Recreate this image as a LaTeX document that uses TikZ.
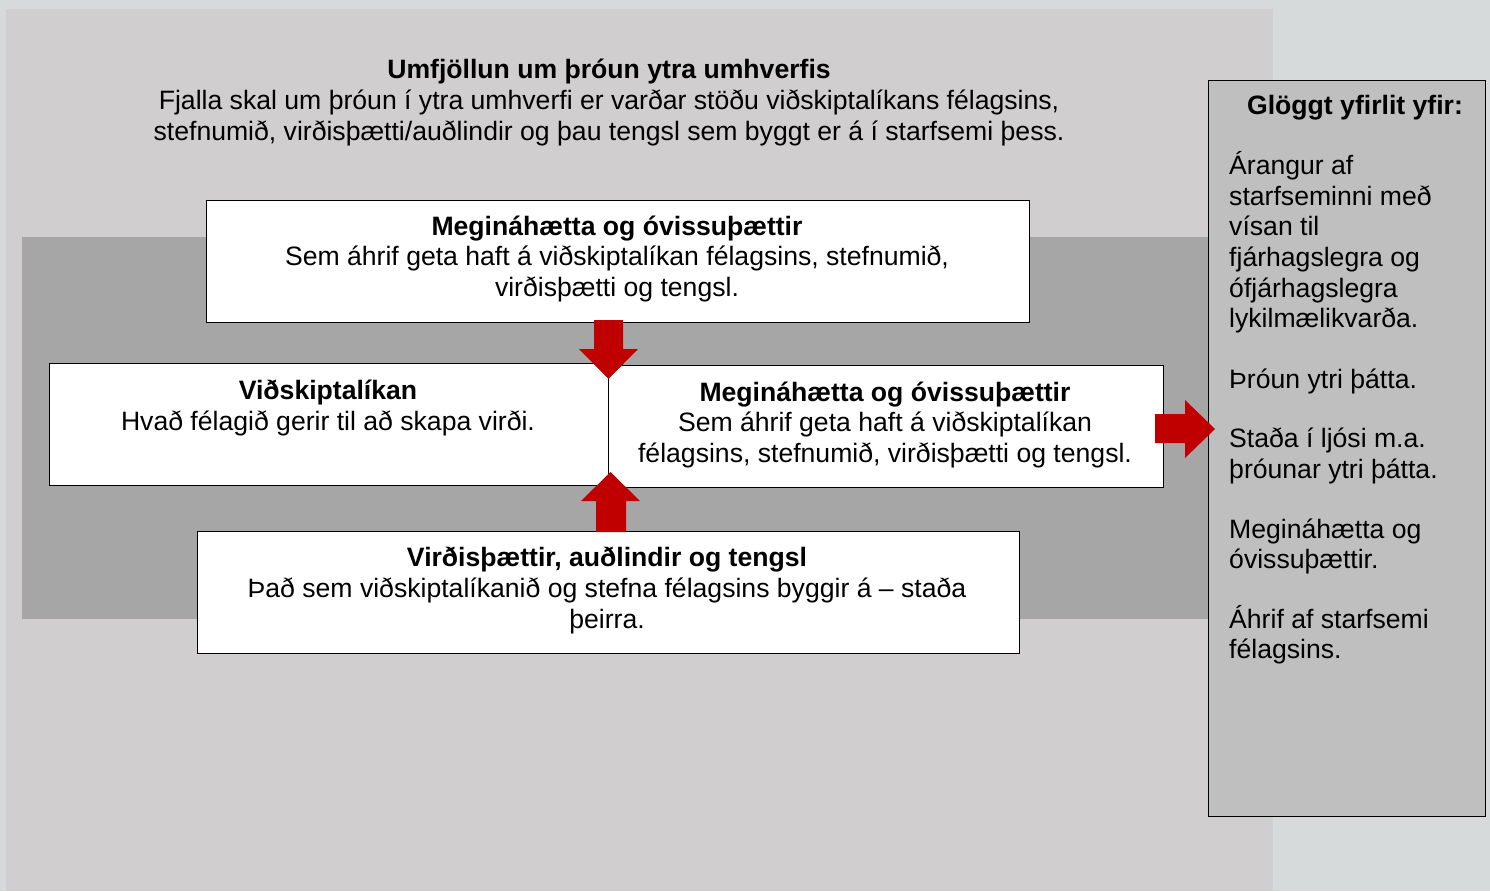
\documentclass[tikz,border=0pt]{standalone}
\usepackage{fontspec}
\setmainfont{Liberation Sans}
\definecolor{outerbg}{HTML}{D6DADB}
\definecolor{panelbg}{HTML}{D0CECF}
\definecolor{bandbg}{HTML}{A6A6A6}
\definecolor{sidebg}{HTML}{BFBFBF}
\definecolor{arrowred}{HTML}{C00000}
\begin{document}
\begin{tikzpicture}[x=1pt,y=-1pt,
  box/.style={draw=black, line width=1.3pt, fill=white, anchor=north west, inner sep=0pt},
  txt/.style={align=center, inner sep=0pt, font=\fontsize{26.6}{30.6}\selectfont},
  sidetxt/.style={align=left, inner sep=0pt, anchor=north west, font=\fontsize{26.6}{30.6}\selectfont},
  blockarrow/.style={fill=arrowred, draw=none}]
\useasboundingbox (0,0) rectangle (1490,891);
\fill[outerbg] (0,0) rectangle (1490,891);
\fill[panelbg] (6,9) rectangle (1273,891);
\fill[bandbg] (22,237) rectangle (1208,619);

% title
\node[txt] (title) at (609,102.5) {\textbf{Umfjöllun um þróun ytra umhverfis}\\
Fjalla skal um þróun í ytra umhverfi er varðar stöðu viðskiptalíkans félagsins,\\
stefnumið, virðisþætti/auðlindir og þau tengsl sem byggt er á í starfsemi þess.};

% boxes
\node[box, minimum width=823, minimum height=122] (top) at (206,200) {};
\node[box, minimum width=559, minimum height=122] (left) at (49,363) {};
\node[box, minimum width=555, minimum height=122] (right) at (608,365) {};
\node[box, minimum width=822, minimum height=122] (bottom) at (197,531) {};
\node[box, fill=sidebg, minimum width=277, minimum height=736] (side) at (1208,80) {};

% box texts
\node[txt] (toptxt) at (617,259) {\textbf{Megináhætta og óvissuþættir}\\
Sem áhrif geta haft á viðskiptalíkan félagsins, stefnumið,\\
virðisþætti og tengsl.};
\node[txt] (lefttxt) at (328,408) {\textbf{Viðskiptalíkan}\\
Hvað félagið gerir til að skapa virði.};
\node[txt] (righttxt) at (885,425) {\textbf{Megináhætta og óvissuþættir}\\
Sem áhrif geta haft á viðskiptalíkan\\
félagsins, stefnumið, virðisþætti og tengsl.};
\node[txt] (bottomtxt) at (607,590.5) {\textbf{Virðisþættir, auðlindir og tengsl}\\
Það sem viðskiptalíkanið og stefna félagsins byggir á -- staða\\
þeirra.};

\node[txt] (sidetitle) at (1355,108) {\textbf{Glöggt yfirlit yfir:}};
\node[sidetxt] (sidebody) at (1229,151.5) {Árangur af\\
starfseminni með\\
vísan til\\
fjárhagslegra og\\
ófjárhagslegra\\
lykilmælikvarða.\\[29.8pt]
Þróun ytri þátta.\\[28.8pt]
Staða í ljósi m.a.\\
þróunar ytri þátta.\\[29.4pt]
Megináhætta og\\
óvissuþættir.\\[28.8pt]
Áhrif af starfsemi\\
félagsins.};

% block arrows
\fill[blockarrow] (594,320) -- (623,320) -- (623,349) -- (638,349) -- (608.5,379) -- (579,349) -- (594,349) -- cycle;
\fill[blockarrow] (596,532) -- (626,532) -- (626,501) -- (640,501) -- (610.5,472) -- (581,501) -- (596,501) -- cycle;
\fill[blockarrow] (1155,414) -- (1185,414) -- (1185,400) -- (1215,429) -- (1185,458) -- (1185,443) -- (1155,443) -- cycle;
\end{tikzpicture}
\end{document}
